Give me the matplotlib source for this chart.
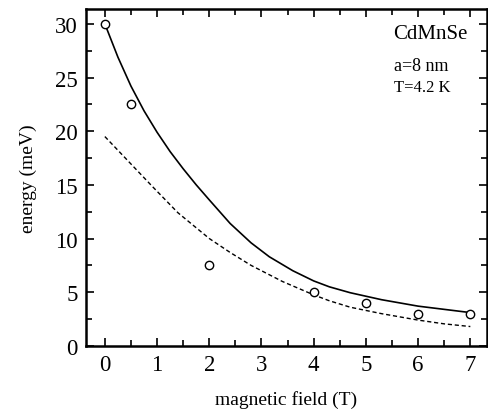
import matplotlib.pyplot as plt
from matplotlib.ticker import MultipleLocator

# measured points
field_pts = [0, 0.5, 2, 4, 5, 6, 7]
energy_pts = [30, 22.5, 7.5, 5, 4, 3, 3]

# solid curve
field_solid = [0, 0.25, 0.5, 0.75, 1.0, 1.25, 1.5, 1.75, 2.0, 2.4, 2.8, 3.15, 3.6, 4.0, 4.3, 4.7, 5.3, 6.0, 6.5, 7.0]
energy_solid = [30, 26.9, 24.2, 21.9, 19.9, 18.1, 16.5, 15.0, 13.6, 11.4, 9.6, 8.3, 7.0, 6.05, 5.5, 4.95, 4.3, 3.7, 3.4, 3.1]

# dashed curve
field_dash = [0, 0.45, 0.9, 1.4, 2.0, 2.4, 2.8, 3.4, 4.0, 4.3, 4.7, 5.3, 6.0, 6.5, 7.0]
energy_dash = [19.5, 17.2, 14.9, 12.4, 10.0, 8.7, 7.5, 6.0, 4.75, 4.2, 3.6, 3.0, 2.4, 2.05, 1.8]

plt.rcParams["font.family"] = ["Liberation Serif", "DejaVu Serif"]

fig = plt.figure(figsize=(4.89, 4.10), dpi=100)
ax = fig.add_axes([0.176, 0.154, 0.820, 0.822])

ax.plot(field_solid, energy_solid, color="black", lw=1.2)
ax.plot(field_dash, energy_dash, color="black", lw=1.0, linestyle=(0, (3, 2)))
ax.plot(field_pts, energy_pts, "o", mfc="white", mec="black", ms=6, mew=1.0)

ax.set_xlim(-0.36, 7.32)
ax.set_ylim(0, 31.4)
ax.xaxis.set_major_locator(MultipleLocator(1))
ax.xaxis.set_minor_locator(MultipleLocator(0.5))
ax.yaxis.set_major_locator(MultipleLocator(5))
ax.yaxis.set_minor_locator(MultipleLocator(2.5))
ax.tick_params(which="both", direction="in", top=True, right=True, labelsize=16.5, width=1.2)
ax.tick_params(which="major", length=6, pad=6)
ax.tick_params(which="minor", length=4)
for s in ax.spines.values():
    s.set_linewidth(1.8)

ax.set_xlabel("magnetic field (T)", fontsize=14, labelpad=11)
ax.set_ylabel("energy (meV)", fontsize=14, labelpad=13)

ax.text(5.53, 29.1, "CdMnSe", fontsize=15, va="center")
ax.text(5.53, 26.1, "a=8 nm", fontsize=13, va="center")
ax.text(5.53, 24.1, "T=4.2 K", fontsize=12, va="center")

fig.savefig("out.png", dpi=100)
